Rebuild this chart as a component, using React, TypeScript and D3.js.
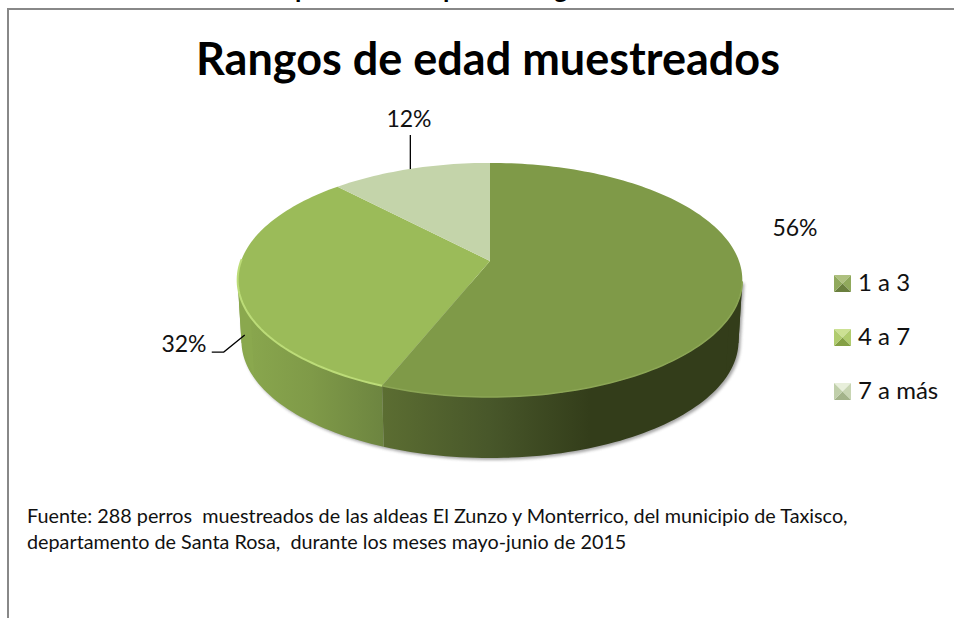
import React from "react";
import * as d3 from "d3";

const categories = ["1 a 3", "4 a 7", "7 a más"];
const values = [56, 32, 12];
const topColors = ["#7f9a48", "#9bbb59", "#c4d4aa"];
const title = "Rangos de edad muestreados";
const footnotes = [
  "Fuente: 288 perros  muestreados de las aldeas El Zunzo y Monterrico, del municipio de Taxisco,",
  "departamento de Santa Rosa,  durante los meses mayo-junio de 2015",
];
const cutOffLetters = [
  { ch: "p", x: 295 },
  { ch: "p", x: 443 },
  { ch: "g", x: 554 },
];
const markerShades = [
  ["#aec07f", "#90a95c", "#6a7f3e", "#90a95c"],
  ["#cce193", "#b0cc6e", "#84a044", "#b0cc6e"],
  ["#e8efdb", "#c8d5b3", "#a3b38a", "#c0cfaa"],
];

const W = 954;
const H = 618;
const cx = 490;
const cy = 261;
const K = -0.162;
const RX = 249;
const RY = 114;
const DEPTH = 61;
const FONT = "Lato, 'Noto Sans', sans-serif";

// perspective projection of a unit circle point at clockwise angle a from 12 o'clock
function project(a: number): [number, number] {
  const u = Math.sin(a);
  const v = -Math.cos(a);
  const w = 1 + K * v;
  return [cx + (RX * u) / w, cy + (RY * v) / w];
}
function projectBottom(a: number): [number, number] {
  const [x, y] = project(a);
  return [cx + (x - cx) * 0.985, y + DEPTH];
}
function samples(a0: number, a1: number) {
  const n = Math.max(4, Math.ceil(Math.abs(a1 - a0) * 40));
  return d3.range(n + 1).map((i) => a0 + ((a1 - a0) * i) / n);
}
const line = d3.line<[number, number]>();

const arcs = d3.pie<number>().sort(null)(values);

const sliceTop = (a0: number, a1: number) =>
  line([[cx, cy] as [number, number], ...samples(a0, a1).map(project)]) + "Z";
const sideWall = (a0: number, a1: number) =>
  line([...samples(a0, a1).map(project), ...samples(a1, a0).map(projectBottom)]) + "Z";
const rim = (a0: number, a1: number) => line(samples(a0, a1).map(project)) || "";

// silhouette limits: the angles where the rim is furthest right and left
const allAngles = samples(0, Math.PI * 2);
const VIS0 = d3.greatest(allAngles, (a) => project(a)[0]) as number;
const VIS1 = d3.least(allAngles, (a) => project(a)[0]) as number;
const bottomShape =
  line([project(VIS0), ...samples(VIS0, VIS1).map(projectBottom), project(VIS1)]) + "Z";

const labelPos = [
  { x: 795, y: 236 },
  { x: 184, y: 352 },
  { x: 409, y: 127 },
];

const mid = (i: number) => (arcs[i].startAngle + arcs[i].endAngle) / 2;
const p12 = project(mid(2));
const p32 = project(mid(1));
const leader12 = line([[p12[0], p12[1]], [p12[0], p12[1] - 34]]) || "";
const leader32 =
  line([[p32[0] + 7, p32[1] + 52], [p32[0] - 14, p32[1] + 69], [p32[0] - 26, p32[1] + 69]]) || "";

export default function App() {
  const legendY = d3.scalePoint<string>().domain(categories).range([283, 391]);
  return (
    <svg
      width={W}
      height={H}
      viewBox={`0 0 ${W} ${H}`}
      style={{ position: "absolute", left: 0, top: 0, background: "#fff" }}
    >
      <defs>
        <linearGradient id="side0" gradientUnits="userSpaceOnUse" x1={380} x2={742} y1={0} y2={0}>
          <stop offset="0" stopColor="#5c6e32" />
          <stop offset="0.3" stopColor="#48572a" />
          <stop offset="0.58" stopColor="#333d1a" />
          <stop offset="1" stopColor="#333d1a" />
        </linearGradient>
        <linearGradient id="side1" gradientUnits="userSpaceOnUse" x1={240} x2={382} y1={0} y2={0}>
          <stop offset="0" stopColor="#8aa84e" />
          <stop offset="0.5" stopColor="#7f9a48" />
          <stop offset="1" stopColor="#6d8540" />
        </linearGradient>
        <filter id="soft" x="-10%" y="-10%" width="120%" height="120%">
          <feGaussianBlur stdDeviation="1.6" />
        </filter>
        <filter id="softer" x="-10%" y="-10%" width="120%" height="120%">
          <feGaussianBlur stdDeviation="0.7" />
        </filter>
      </defs>

      <path d={`M8,618V9H954`} fill="none" stroke="#888" strokeWidth={2} />

      {cutOffLetters.map((l, i) => (
        <text key={i} x={l.x} y={-2} fontFamily={FONT} fontWeight={700} fontSize={26} fill="#000">
          {l.ch}
        </text>
      ))}

      <text
        x={488}
        y={75}
        textAnchor="middle"
        fontFamily={FONT}
        fontWeight={700}
        fontSize={45}
        fill="#000"
      >
        {title}
      </text>

      <path d={bottomShape} transform="translate(2,2)" fill="#777" opacity={0.65} filter="url(#soft)" />

      <path d={sideWall(VIS0, arcs[0].endAngle)} fill="url(#side0)" />
      <path d={sideWall(arcs[1].startAngle, VIS1)} fill="url(#side1)" />
      <path
        d={line([project(VIS0), projectBottom(VIS0), projectBottom(VIS0 + 0.3), project(VIS0 + 0.3)]) + "Z"}
        fill="#333d1a"
      />
      <path
        d={line([project(VIS1), projectBottom(VIS1), projectBottom(VIS1 - 0.3), project(VIS1 - 0.3)]) + "Z"}
        fill="#8aa84e"
      />

      {arcs.map((a, i) => (
        <path key={i} d={sliceTop(a.startAngle, a.endAngle)} fill={topColors[i]} />
      ))}
      <path
        d={rim(arcs[1].startAngle, arcs[1].endAngle - 0.8)}
        fill="none"
        stroke="#bcdc78"
        strokeWidth={2}
        filter="url(#softer)"
      />
      <path
        d={rim(VIS0, arcs[0].endAngle)}
        fill="none"
        stroke="#8ca655"
        strokeWidth={1.5}
        filter="url(#softer)"
      />

      <path d={leader12} fill="none" stroke="#000" strokeWidth={1.3} />
      <path d={leader32} fill="none" stroke="#000" strokeWidth={1.3} />

      {arcs.map((a, i) => (
        <text
          key={i}
          x={labelPos[i].x}
          y={labelPos[i].y}
          textAnchor="middle"
          fontFamily={FONT}
          fontSize={23}
          fill="#111"
        >
          {`${a.value}%`}
        </text>
      ))}

      {categories.map((c, i) => {
        const y = legendY(c) as number;
        const x0 = 834;
        const s = 17;
        const t = y - 8;
        const shades = markerShades[i];
        const mx = x0 + s / 2;
        const my = t + s / 2;
        return (
          <g key={c}>
            <path d={`M${x0},${t}H${x0 + s}L${mx},${my}Z`} fill={shades[0]} />
            <path d={`M${x0 + s},${t}V${t + s}L${mx},${my}Z`} fill={shades[1]} />
            <path d={`M${x0},${t + s}H${x0 + s}L${mx},${my}Z`} fill={shades[2]} />
            <path d={`M${x0},${t}V${t + s}L${mx},${my}Z`} fill={shades[3]} />
            <text x={858} y={y + 8} fontFamily={FONT} fontSize={24} fill="#111">
              {c}
            </text>
          </g>
        );
      })}

      {footnotes.map((f, i) => (
        <text
          key={i}
          x={27}
          y={523 + i * 26}
          fontFamily={FONT}
          fontSize={19.8}
          fill="#111"
          style={{ whiteSpace: "pre" }}
        >
          {f}
        </text>
      ))}
    </svg>
  );
}
